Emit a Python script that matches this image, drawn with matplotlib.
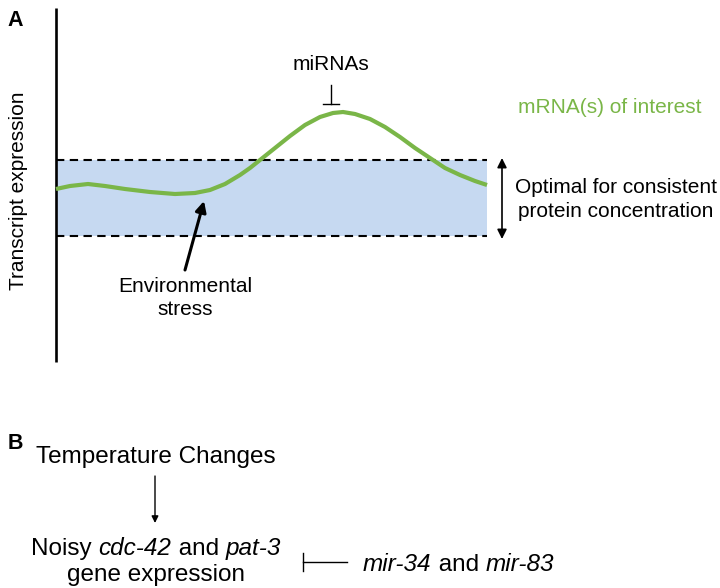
import matplotlib
matplotlib.use("Agg")
import matplotlib.pyplot as plt
import numpy as np

plt.rcParams['font.family'] = ['Liberation Sans', 'DejaVu Sans']

# ---- data (figure-pixel units) ----
curve_x = [56, 70, 88, 105, 125, 150, 175, 195, 210, 225, 240, 250, 260, 275, 290,
           305, 320, 333, 343, 355, 370, 385, 400, 415, 430, 445, 460, 475, 487]
curve_y = [189, 186, 184, 186, 189, 192, 194, 193, 190, 184, 175, 168, 160, 148, 136,
           125, 117, 113, 112, 114, 119, 127, 137, 148, 158, 168, 175, 181, 185]
band_low = 236
band_high = 160
band_x = [56, 487]

GREEN = '#7ab648'
BLUE = '#c6d9f1'

W, H = 720, 588
fig = plt.figure(figsize=(W / 100, H / 100), dpi=100)
ax = fig.add_axes([0, 0, 1, 1])
ax.set_xlim(0, W)
ax.set_ylim(H, 0)
ax.axis('off')

# ---------------- Panel A ----------------
ax.text(15, 26, 'A', fontsize=15.5, fontweight='bold', ha='center', va='baseline')
ax.plot([56, 56], [8, 362], color='black', lw=1.9, solid_capstyle='butt')
ax.text(19, 191, 'Transcript expression', rotation=90, fontsize=15,
        ha='center', va='center')

ax.fill_between(band_x, [band_high] * 2, [band_low] * 2, color=BLUE, lw=0)
for yy in (band_high, band_low):
    ax.plot(band_x, [yy, yy], color='black', lw=1.5, dashes=(4, 2.6))

ax.plot(curve_x, curve_y, color=GREEN, lw=3.0, solid_joinstyle='round',
        solid_capstyle='butt')

# miRNAs inhibition
ax.text(331, 70, 'miRNAs', fontsize=15, ha='center', va='baseline')
ax.plot([331, 331], [85, 104], color='black', lw=1.0)
ax.plot([323, 339], [104, 104], color='black', lw=1.0)

ax.text(610, 113, 'mRNA(s) of interest', fontsize=15, color=GREEN,
        ha='center', va='baseline')

# double arrow
ax.annotate('', xy=(502, 158), xytext=(502, 239),
            arrowprops=dict(arrowstyle='<|-|>', color='black', lw=1.2,
                            mutation_scale=14, shrinkA=0, shrinkB=0))
ax.text(616, 193, 'Optimal for consistent', fontsize=15, ha='center', va='baseline')
ax.text(616, 217, 'protein concentration', fontsize=15, ha='center', va='baseline')

# environmental stress arrow
ax.annotate('', xy=(204, 201), xytext=(185, 270),
            arrowprops=dict(arrowstyle='-|>', color='black', lw=2.2,
                            mutation_scale=16, shrinkA=0, shrinkB=0))
ax.text(185, 292, 'Environmental', fontsize=15, ha='center', va='baseline')
ax.text(185, 315, 'stress', fontsize=15, ha='center', va='baseline')

# ---------------- Panel B ----------------
ax.text(15, 449, 'B', fontsize=15.5, fontweight='bold', ha='center', va='baseline')
ax.text(156, 463, 'Temperature Changes', fontsize=17.5, ha='center', va='baseline')
ax.annotate('', xy=(155, 523), xytext=(155, 476),
            arrowprops=dict(arrowstyle='-|>', color='black', lw=1.0,
                            mutation_scale=10, shrinkA=0, shrinkB=0))

renderer = fig.canvas.get_renderer()


def mixed_text(x, y, pieces, ha='center', size=17.5):
    """Draw a line made of (text, style) pieces on a baseline."""
    objs = []
    widths = []
    for s, st in pieces:
        t = ax.text(0, y, s, fontsize=size, fontstyle=st, va='baseline', ha='left')
        bb = t.get_window_extent(renderer)
        objs.append(t)
        widths.append(bb.width)
    total = sum(widths)
    start = x - total / 2 if ha == 'center' else x
    cur = start
    for t, w in zip(objs, widths):
        t.set_x(cur)
        cur += w


mixed_text(156, 555, [('Noisy ', 'normal'), ('cdc-42', 'italic'),
                      (' and ', 'normal'), ('pat-3', 'italic')])
ax.text(156, 581, 'gene expression', fontsize=17.5, ha='center', va='baseline')

# inhibition in B
ax.plot([303, 303], [553, 571], color='black', lw=1.0)
ax.plot([303, 347], [562, 562], color='black', lw=1.0)
mixed_text(363, 571, [('mir-34', 'italic'), (' and ', 'normal'), ('mir-83', 'italic')],
           ha='left')

fig.savefig('out.png', dpi=100)
